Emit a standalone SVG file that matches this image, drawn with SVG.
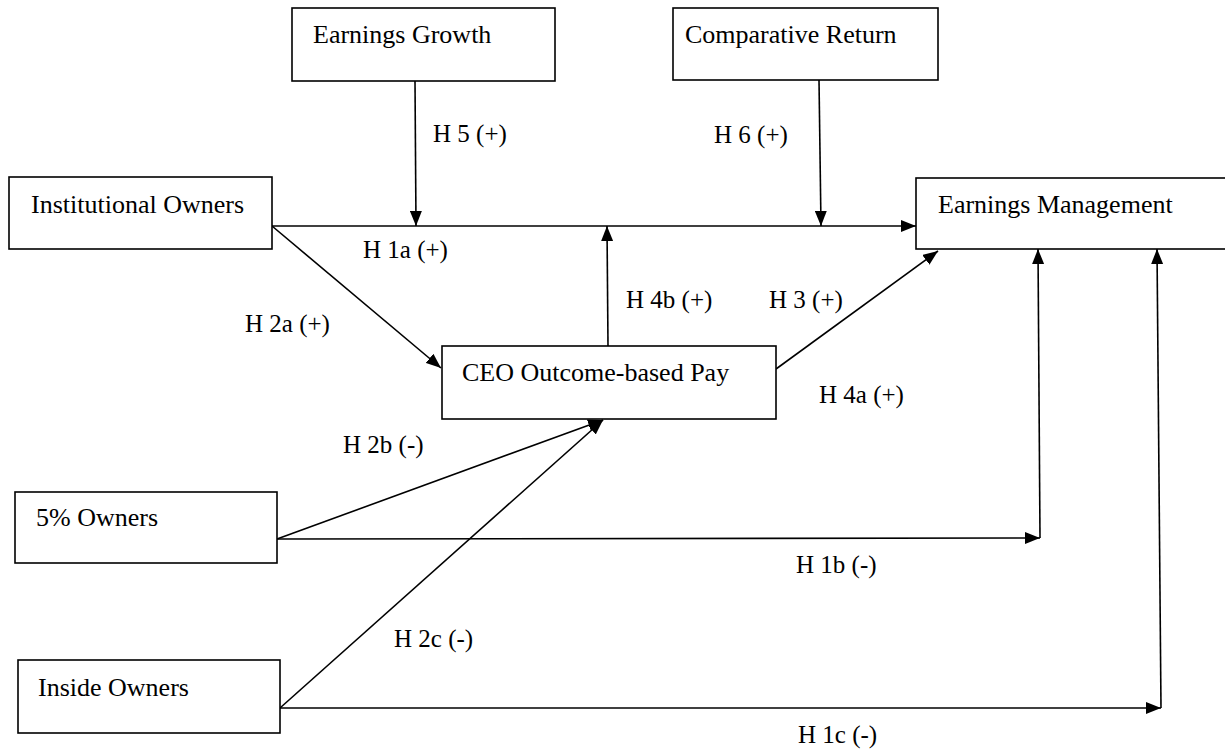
<svg xmlns="http://www.w3.org/2000/svg" width="1225" height="751" viewBox="0 0 1225 751">
<style>
  .box { fill: #ffffff; stroke: #000000; stroke-width: 1.6; }
  .node-text { font-family: "Liberation Serif", "Times New Roman", serif; font-size: 26px; fill: #000000; }
  .lbl { font-family: "Liberation Serif", "Times New Roman", serif; font-size: 25px; fill: #000000; }
  .conn { fill: none; stroke: #000000; stroke-width: 1.6; }
  .arr { marker-end: url(#ah); }
</style>
<defs>
  <marker id="ah" markerUnits="userSpaceOnUse" markerWidth="16" markerHeight="12" refX="15" refY="6" orient="auto">
    <path d="M0,0 L15,6 L0,12 z" fill="#000000"/>
  </marker>
</defs>
<rect width="1225" height="751" fill="#ffffff"/>

<g id="connectors">
  <line class="conn arr" x1="272" y1="226" x2="916" y2="226"/>
  <line class="conn arr" x1="415" y1="81" x2="416" y2="226"/>
  <line class="conn arr" x1="819" y1="80" x2="821" y2="226"/>
  <line class="conn arr" x1="608" y1="346" x2="607" y2="226"/>
  <line class="conn arr" x1="272" y1="226" x2="441" y2="368"/>
  <line class="conn arr" x1="776" y1="369" x2="938" y2="251"/>
  <line class="conn arr" x1="277" y1="539" x2="603" y2="420"/>
  <line class="conn arr" x1="280" y1="708" x2="603" y2="420"/>
  <line class="conn arr" x1="277" y1="539" x2="1040" y2="538"/>
  <line class="conn arr" x1="1040" y1="538" x2="1038" y2="249"/>
  <line class="conn arr" x1="280" y1="708" x2="1161" y2="708"/>
  <line class="conn arr" x1="1161" y1="708" x2="1157" y2="249"/>
</g>

<g id="labels">
  <text class="lbl" x="433" y="142">H 5 (+)</text>
  <text class="lbl" x="714" y="143">H 6 (+)</text>
  <text class="lbl" x="363" y="258">H 1a (+)</text>
  <text class="lbl" x="245" y="332">H 2a (+)</text>
  <text class="lbl" x="626" y="308">H 4b (+)</text>
  <text class="lbl" x="769" y="308">H 3 (+)</text>
  <text class="lbl" x="819" y="403">H 4a (+)</text>
  <text class="lbl" x="343" y="453">H 2b (-)</text>
  <text class="lbl" x="796" y="573">H 1b (-)</text>
  <text class="lbl" x="394" y="647">H 2c (-)</text>
  <text class="lbl" x="798" y="743">H 1c (-)</text>
</g>

<g id="earnings-growth">
  <rect class="box" x="292" y="8" width="263" height="73"/>
  <text class="node-text" x="313" y="43">Earnings Growth</text>
</g>
<g id="comparative-return">
  <rect class="box" x="673" y="8" width="265" height="72"/>
  <text class="node-text" x="685" y="43">Comparative Return</text>
</g>
<g id="institutional-owners">
  <rect class="box" x="9" y="177" width="263" height="72"/>
  <text class="node-text" x="31" y="213">Institutional Owners</text>
</g>
<g id="earnings-management">
  <rect class="box" x="916" y="178" width="312" height="71"/>
  <text class="node-text" x="938" y="213">Earnings Management</text>
</g>
<g id="ceo-pay">
  <rect class="box" x="442" y="346" width="334" height="73"/>
  <text class="node-text" x="462" y="381">CEO Outcome-based Pay</text>
</g>
<g id="five-pct-owners">
  <rect class="box" x="15" y="492" width="262" height="71"/>
  <text class="node-text" x="36" y="526">5% Owners</text>
</g>
<g id="inside-owners">
  <rect class="box" x="18" y="660" width="262" height="73"/>
  <text class="node-text" x="38" y="696">Inside Owners</text>
</g>
</svg>
